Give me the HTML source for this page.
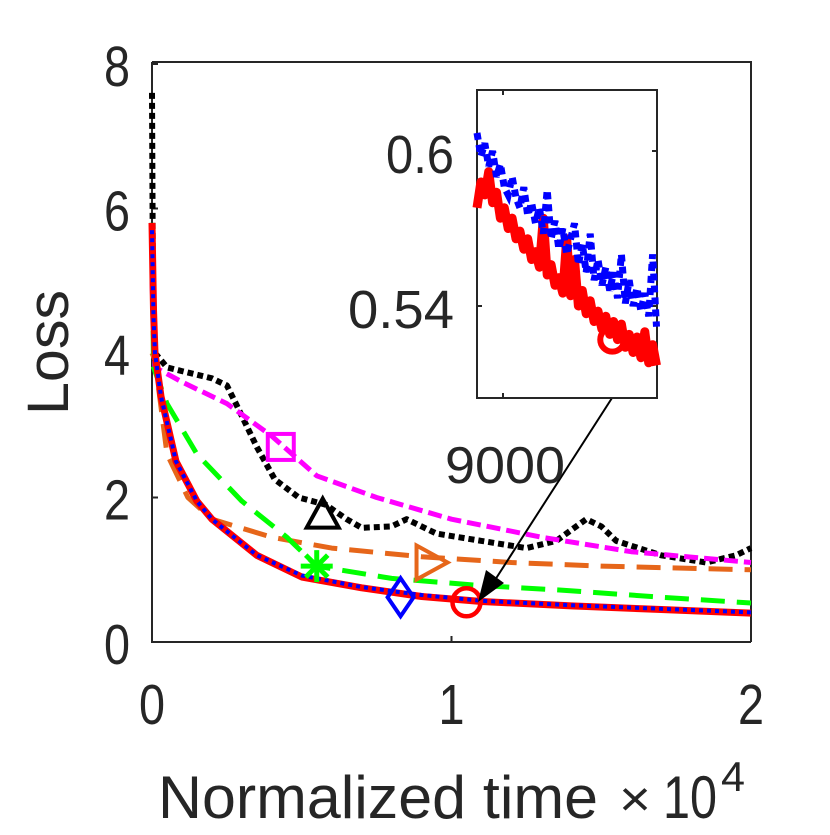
<!DOCTYPE html>
<html><head><meta charset="utf-8"><style>
body{margin:0;background:#fff}
svg text{font-family:"Liberation Sans",sans-serif;fill:#262626}
</style></head><body>
<svg id="c" width="830" height="830" viewBox="0 0 830 830" xmlns="http://www.w3.org/2000/svg"></svg>
<script>
const tRB=[0,0.005,0.01,0.03,0.08,0.15,0.2,0.35,0.5,0.7,0.9,1.1,1.4,1.7,2.0];
const vRed=[5.8,4.6,4.0,3.4,2.5,1.95,1.7,1.2,0.9,0.75,0.63,0.56,0.5,0.45,0.4];
const vBlue=[5.7,4.5,4.0,3.4,2.5,1.95,1.7,1.2,0.92,0.76,0.65,0.57,0.51,0.46,0.41];
const tGreen=[0,0.005,0.05,0.15,0.3,0.45,0.55,0.8,1.1,1.36,1.7,2.0];
const vGreen=[5.8,3.8,3.3,2.6,1.95,1.45,1.05,0.88,0.78,0.72,0.62,0.54];
const tOrange=[0,0.01,0.05,0.12,0.2,0.4,0.6,0.9,1.2,1.5,2.0];
const vOrange=[4.0,3.9,2.6,2.0,1.7,1.45,1.3,1.18,1.1,1.05,1.0];
const tMag=[0,0.01,0.1,0.25,0.4,0.55,0.75,1.0,1.3,1.6,2.0];
const vMag=[5.0,3.8,3.6,3.3,2.85,2.3,2.0,1.7,1.45,1.25,1.1];
const tBlack=[0,0.003,0.01,0.05,0.1,0.2,0.25,0.28,0.35,0.41,0.49,0.58,0.65,0.7,0.8,0.85,0.95,1.1,1.25,1.35,1.4,1.45,1.5,1.55,1.7,1.85,1.95,2.0];
const vBlack=[7.6,5.0,4.0,3.8,3.75,3.65,3.55,3.3,2.7,2.25,2.0,1.9,1.7,1.58,1.6,1.7,1.5,1.4,1.3,1.4,1.55,1.7,1.6,1.4,1.2,1.1,1.2,1.3];
const xTicks=[0,1,2];
const yTicks=[0,2,4,6,8];
const insetT=[8900,8915,8930,8945,8960,8975,8990,9005,9020,9035,9050,9065,9080,9095,9110,9125,9140,9155,9170,9185,9200,9215,9230,9245,9260,9275,9290,9305,9320,9335,9350,9365,9380,9395,9410,9425,9440,9455,9470,9485,9500,9515,9530,9545,9560,9575,9590];
const insetRed=[0.578,0.588,0.583,0.592,0.580,0.584,0.574,0.578,0.570,0.574,0.566,0.569,0.562,0.566,0.558,0.561,0.555,0.574,0.552,0.556,0.548,0.551,0.545,0.566,0.544,0.558,0.540,0.546,0.537,0.542,0.534,0.538,0.531,0.536,0.529,0.534,0.527,0.533,0.524,0.529,0.522,0.528,0.520,0.530,0.518,0.525,0.517];
const insetBlue=[0.607,0.598,0.603,0.594,0.600,0.590,0.595,0.586,0.583,0.590,0.582,0.578,0.586,0.575,0.580,0.572,0.578,0.568,0.585,0.566,0.573,0.562,0.570,0.560,0.566,0.572,0.556,0.564,0.553,0.568,0.550,0.558,0.548,0.555,0.546,0.553,0.543,0.560,0.541,0.550,0.540,0.547,0.538,0.545,0.536,0.560,0.532];
const insetYTicks=[0.54,0.6];
const insetXTicks=[9000];

const S=document.getElementById('c');const NS='http://www.w3.org/2000/svg';
function mk(t,a,p){const e=document.createElementNS(NS,t);for(const k in a)e.setAttribute(k,a[k]);(p||S).appendChild(e);return e;}
const X=t=>152+t/2*599, Y=v=>642-v/8*578;
const IX=t=>477+(t-8900)/692*180, IY=v=>151+(0.6-v)/0.06*155;
function path(ts,vs,fx,fy){return ts.map((t,i)=>(i?'L':'M')+fx(t).toFixed(1)+','+fy(vs[i]).toFixed(1)).join('');}
function txt(s,a){let t=mk('text',Object.assign({lengthAdjust:'spacingAndGlyphs'},a));t.textContent=s;return t;}
// axes
let e=mk('path',{d:'M152,62L152,642L751,642M152,62L751,62L751,642',fill:'none',stroke:'#262626','stroke-width':2});

xTicks.forEach(t=>{mk('line',{x1:X(t),x2:X(t),y1:642,y2:636,stroke:'#262626','stroke-width':2});
 let tx=txt(String(t),{x:X(t)-13,y:724,'font-size':57,textLength:26});
 });
yTicks.forEach(v=>{mk('line',{x1:152,x2:158,y1:Y(v),y2:Y(v),stroke:'#262626','stroke-width':2});
 let tx=txt(String(v),{x:104,y:Y(v)+22,'font-size':57,textLength:26});
 });
let yl=txt('Loss',{x:0,y:0,'font-size':58,textLength:125,transform:'translate(68,415) rotate(-90)'});

let xl=txt('Normalized time',{x:158,y:818,'font-size':60,textLength:440});

let xx=txt('×',{x:619,y:816,'font-size':50,textLength:32});

let xm=txt('10',{x:663,y:818,'font-size':60,textLength:54});

let xe=txt('4',{x:721,y:791,'font-size':42,textLength:24});

// series
function series(name,ts,vs,col,dash,w){let p=mk('path',{d:path(ts,vs,X,Y),fill:'none',stroke:col,'stroke-width':w,'stroke-dasharray':dash||'none','stroke-linejoin':'round'});
 }
series('series-black',tBlack,vBlack,'#000','6,4',6);
series('series-magenta',tMag,vMag,'#ff00ff','14,6',5);
series('series-orange',tOrange,vOrange,'#e6661a','24,12',5);
series('series-green',tGreen,vGreen,'#00ff00','24,12',5);
series('series-red',tRB,vRed,'#ff0000','',7);
series('series-blue',tRB,vBlue,'#0000ff','4,4',4);
// markers
function marker(name,t,v,col,shape){let x=X(t),y=Y(v),g;
 if(shape=='sq')g=mk('rect',{x:x-13,y:y-13,width:26,height:26,fill:'none',stroke:col,'stroke-width':4});
 if(shape=='tri')g=mk('path',{d:`M${x},${y-17}L${x+16},${y+12}L${x-16},${y+12}Z`,fill:'none',stroke:col,'stroke-width':4});
 if(shape=='rtri')g=mk('path',{d:`M${x-14},${y-17}L${x+17},${y}L${x-14},${y+17}Z`,fill:'none',stroke:col,'stroke-width':4});
 if(shape=='dia')g=mk('path',{d:`M${x},${y-19}L${x+13},${y}L${x},${y+19}L${x-13},${y}Z`,fill:'none',stroke:col,'stroke-width':4});
 if(shape=='circ')g=mk('circle',{cx:x,cy:y,r:14,fill:'none',stroke:col,'stroke-width':4.5});
 if(shape=='ast'){g=mk('g',{stroke:col,'stroke-width':5});[[0,16],[16,0],[11,11],[11,-11]].forEach(d=>mk('line',{x1:x-d[0],y1:y-d[1],x2:x+d[0],y2:y+d[1]},g));}
 }
marker('marker-square',0.43,2.7,'#ff00ff','sq');
marker('marker-triangle',0.57,1.75,'#000','tri');
marker('marker-right-triangle',0.93,1.1,'#e6661a','rtri');
marker('marker-asterisk',0.55,1.05,'#00ff00','ast');
marker('marker-diamond',0.83,0.62,'#0000ff','dia');
marker('marker-circle',1.05,0.55,'#ff0000','circ');
// arrow
let ar=mk('g',{});
mk('line',{x1:612,y1:398,x2:495,y2:580,stroke:'#000','stroke-width':2},ar);
mk('path',{d:'M478,602L486,570L504,583Z',fill:'#000'},ar);
let at=txt('9000',{x:445,y:483,'font-size':52,textLength:120});

// inset
let ib=mk('rect',{x:477,y:90,width:180,height:308,fill:'#fff',stroke:'#262626','stroke-width':2});

insetYTicks.forEach(v=>{mk('line',{x1:477,x2:482,y1:IY(v),y2:IY(v),stroke:'#262626','stroke-width':2});
 mk('line',{x1:652,x2:657,y1:IY(v),y2:IY(v),stroke:'#262626','stroke-width':2});
 const s=String(v);const w=s.length>3?106:68;
 let tx=txt(s,{x:454-w,y:IY(v)+22,'font-size':54,textLength:w});
 });
insetXTicks.forEach(t=>{mk('line',{x1:IX(t),x2:IX(t),y1:398,y2:393,stroke:'#262626','stroke-width':2});mk('line',{x1:IX(t),x2:IX(t),y1:90,y2:95,stroke:'#262626','stroke-width':2});});
let ir=mk('path',{d:path(insetT,insetRed,IX,IY),fill:'none',stroke:'#ff0000','stroke-width':9,'stroke-linejoin':'round'});

let ic=mk('circle',{cx:IX(9420),cy:IY(0.527),r:12,fill:'none',stroke:'#ff0000','stroke-width':6});

let ibl=mk('path',{d:path(insetT,insetBlue,IX,IY),fill:'none',stroke:'#0000ff','stroke-width':7,'stroke-dasharray':'7,5'});

</script>
</body></html>
